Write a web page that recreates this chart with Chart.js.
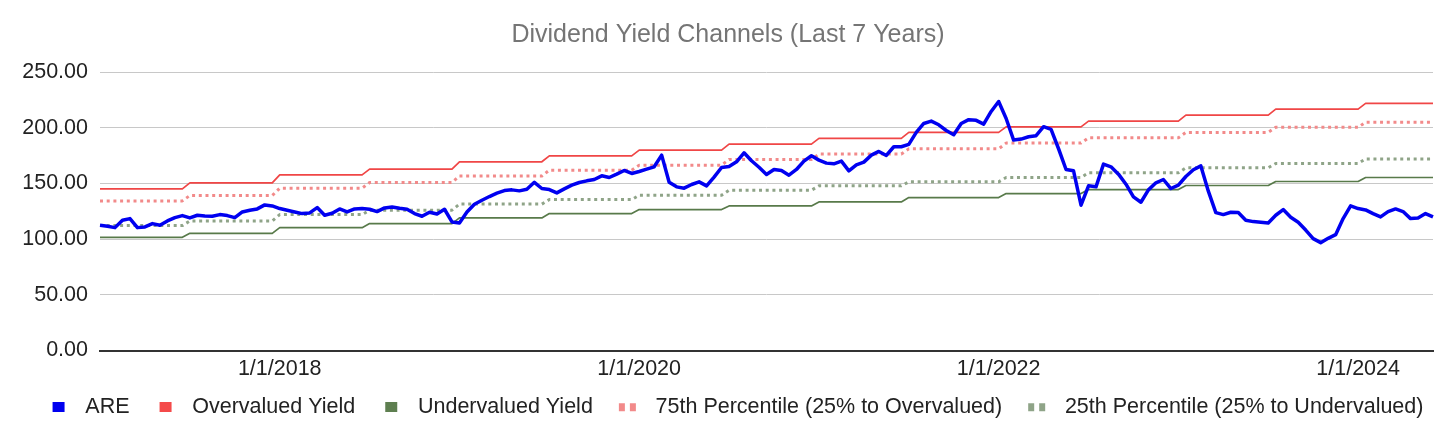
<!DOCTYPE html>
<html>
<head>
<meta charset="utf-8">
<script src="https://cdn.jsdelivr.net/npm/chart.js@4.4.1/dist/chart.umd.min.js"></script>
<style>
  html, body { margin: 0; padding: 0; background: #fff; }
  #wrap { width: 1456px; height: 440px; }
</style>
</head>
<body>
<div id="wrap"><canvas id="yieldChart"></canvas></div>
<script>
const FONT = '"Liberation Sans", Arial, sans-serif';

// ARE yield-implied price, twice a month from 1/1/2017 to 6/1/2024
const areValues = [
  112.4, 111.5, 110.3, 116.9, 118.4, 110.3, 110.9, 113.9, 112.4, 116.3, 119.3, 121.1,
  119.0, 121.4, 120.8, 120.5, 122.0, 121.1, 119.3, 124.4, 125.9, 127.1, 130.7, 129.8,
  127.4, 125.9, 124.4, 122.9, 123.5, 128.3, 121.4, 123.2, 127.1, 124.4, 127.1, 127.4,
  126.8, 124.7, 128.0, 128.9, 127.7, 126.8, 122.9, 120.5, 124.1, 122.6, 126.8, 115.4,
  114.5, 124.4, 131.3, 134.9, 138.2, 141.2, 143.6, 144.2, 143.3, 144.8, 151.0, 145.4,
  144.5, 141.5, 145.1, 148.4, 150.8, 152.3, 153.5, 156.8, 155.3, 158.3, 161.6, 158.9,
  160.7, 162.8, 164.9, 175.4, 151.1, 146.9, 145.7, 149.0, 151.4, 147.8, 155.6, 164.3,
  165.2, 169.4, 177.5, 170.3, 164.5, 158.0, 162.5, 161.6, 157.4, 162.5, 170.0, 174.8,
  170.9, 168.2, 167.6, 170.0, 161.3, 166.7, 169.1, 175.4, 178.7, 175.1, 182.9, 182.9,
  185.0, 195.8, 203.8, 205.9, 202.6, 197.5, 193.7, 203.8, 207.2, 206.6, 203.2, 214.6,
  223.5, 208.3, 188.9, 189.8, 191.9, 192.8, 200.9, 198.5, 181.1, 162.5, 161.3, 130.4,
  147.8, 146.9, 167.3, 164.9, 158.3, 149.3, 137.9, 133.1, 144.2, 150.5, 153.5, 145.4,
  148.4, 156.2, 162.3, 165.7, 143.0, 123.8, 122.0, 124.1, 123.8, 116.9, 115.7, 115.1,
  114.5, 121.4, 126.5, 119.6, 115.1, 108.1, 100.4, 96.8, 100.7, 104.0, 118.4, 129.8,
  127.4, 126.2, 122.9, 119.9, 124.7, 127.1, 124.7, 118.4, 119.0, 122.9, 119.9
];

// dates on which the yield channels move to a new level
const stepDates = [
  "1/1/2017", "7/1/2017", "1/1/2018", "7/1/2018", "1/1/2019", "7/1/2019", "1/1/2020", "7/1/2020",
  "1/1/2021", "7/1/2021", "1/16/2022", "7/1/2022", "1/16/2023", "7/16/2023", "1/16/2024"
];
const overLevels  = [145.1, 150.5, 157.7, 162.8, 169.4, 174.7, 179.9, 185.3, 190.4, 195.8, 200.8, 205.9, 211.3, 216.7, 221.8];
const underLevels = [101.6, 105.2, 110.3, 113.9, 119.0, 122.9, 126.5, 129.8, 133.4, 137.3, 140.9, 144.5, 148.1, 151.7, 155.3];
const p75Levels   = [134.3, 139.1, 145.7, 150.8, 156.6, 161.9, 166.4, 171.5, 176.3, 181.0, 186.2, 190.9, 195.8, 200.3, 205.0];
const p25Levels   = [112.1, 116.3, 122.0, 126.0, 131.4, 135.5, 139.4, 143.9, 147.8, 151.4, 155.3, 159.6, 164.0, 167.9, 172.0];

const xTickLabels = ["1/1/2018", "1/1/2020", "1/1/2022", "1/1/2024"];
const yTicks = [0, 50, 100, 150, 200, 250];

// 1st and 16th of every month
const dates = [];
for (let y = 2017; y <= 2024; y++) {
  for (let m = 1; m <= 12; m++) {
    dates.push(`${m}/1/${y}`);
    dates.push(`${m}/16/${y}`);
  }
}
dates.length = areValues.length;

function stepSeries(levels) {
  const starts = stepDates.map((d) => dates.indexOf(d));
  return dates.map((_, i) => {
    let k = 0;
    while (k + 1 < starts.length && starts[k + 1] <= i) k++;
    return levels[k];
  });
}

function solidMarker(color) {
  const c = document.createElement("canvas");
  c.width = 42;
  c.height = 10;
  const g = c.getContext("2d");
  g.fillStyle = color;
  g.fillRect(20, 0, 12, 10);
  return c;
}

function dottedMarker(color) {
  const c = document.createElement("canvas");
  c.width = 42;
  c.height = 10;
  const g = c.getContext("2d");
  g.fillStyle = color;
  g.fillRect(16, 1, 6, 8);
  g.fillRect(27, 1, 6, 8);
  return c;
}

const datasets = [
  { label: "ARE", data: areValues, borderColor: "#0000f0", borderWidth: 3.5, marker: solidMarker("#0000f0") },
  { label: "Overvalued Yield", data: stepSeries(overLevels), borderColor: "#f04646", borderWidth: 1.7, marker: solidMarker("#f44a4a") },
  { label: "Undervalued Yield", data: stepSeries(underLevels), borderColor: "#587a4a", borderWidth: 1.7, marker: solidMarker("#5e7f50") },
  { label: "75th Percentile (25% to Overvalued)", data: stepSeries(p75Levels), borderColor: "#f28a8a", borderWidth: 3, borderDash: [3, 3.7], marker: dottedMarker("#f28a8a") },
  { label: "25th Percentile (25% to Undervalued)", data: stepSeries(p25Levels), borderColor: "#8fa488", borderWidth: 3, borderDash: [3, 3.7], marker: dottedMarker("#8fa488") },
].map((d) => Object.assign({ pointRadius: 0, tension: 0, fill: false, borderCapStyle: "butt", borderJoinStyle: "round" }, d));

new Chart(document.getElementById("yieldChart"), {
  type: "line",
  data: { labels: dates, datasets: datasets },
  options: {
    responsive: true,
    maintainAspectRatio: false,
    animation: false,
    events: [],
    layout: { padding: { left: 0, right: 0, top: 0, bottom: 12 } },
    plugins: {
      title: {
        display: true,
        text: "Dividend Yield Channels (Last 7 Years)",
        color: "#757575",
        font: { family: FONT, size: 25, weight: "normal" },
        padding: { top: 20, bottom: 22 },
      },
      legend: {
        position: "bottom",
        labels: {
          color: "#222",
          font: { family: FONT, size: 21.5 },
          usePointStyle: true,
          pointStyleWidth: 42,
          padding: 10,
          generateLabels(chart) {
            return chart.data.datasets.map((ds, i) => ({
              text: ds.label,
              pointStyle: ds.marker,
              fontColor: "#222",
              datasetIndex: i,
              hidden: false,
              lineWidth: 0,
            }));
          },
        },
      },
      tooltip: { enabled: false },
    },
    scales: {
      x: {
        type: "category",
        offset: false,
        afterFit(scale) { scale.height = 36; },
        grid: {
          drawTicks: false,
          lineWidth: 1,
          color: (ctx) => (xTickLabels.includes(dates[ctx.index]) ? "#c8c8c8" : "rgba(0,0,0,0)"),
        },
        border: { display: true, color: "#333", width: 2 },
        ticks: {
          autoSkip: false,
          maxRotation: 0,
          padding: 6,
          color: "#222",
          font: { family: FONT, size: 21.5 },
          callback: (value, index) => (xTickLabels.includes(dates[index]) ? dates[index] : null),
        },
      },
      y: {
        min: 0,
        max: 250,
        afterFit(scale) { scale.width = 100; },
        afterBuildTicks(scale) { scale.ticks = yTicks.map((v) => ({ value: v })); },
        grid: { drawTicks: false, color: "#c8c8c8", lineWidth: 1 },
        border: { display: false },
        ticks: {
          padding: 12,
          color: "#222",
          font: { family: FONT, size: 21.5 },
          callback: (v) => Number(v).toFixed(2),
        },
      },
      // empty right-hand margin so the plot stops short of the edge
      yRight: {
        position: "right",
        min: 0,
        max: 250,
        afterFit(scale) { scale.width = 23; },
        grid: { display: false, drawOnChartArea: false },
        border: { display: false },
        ticks: { display: false },
      },
    },
  },
});
</script>
</body>
</html>
